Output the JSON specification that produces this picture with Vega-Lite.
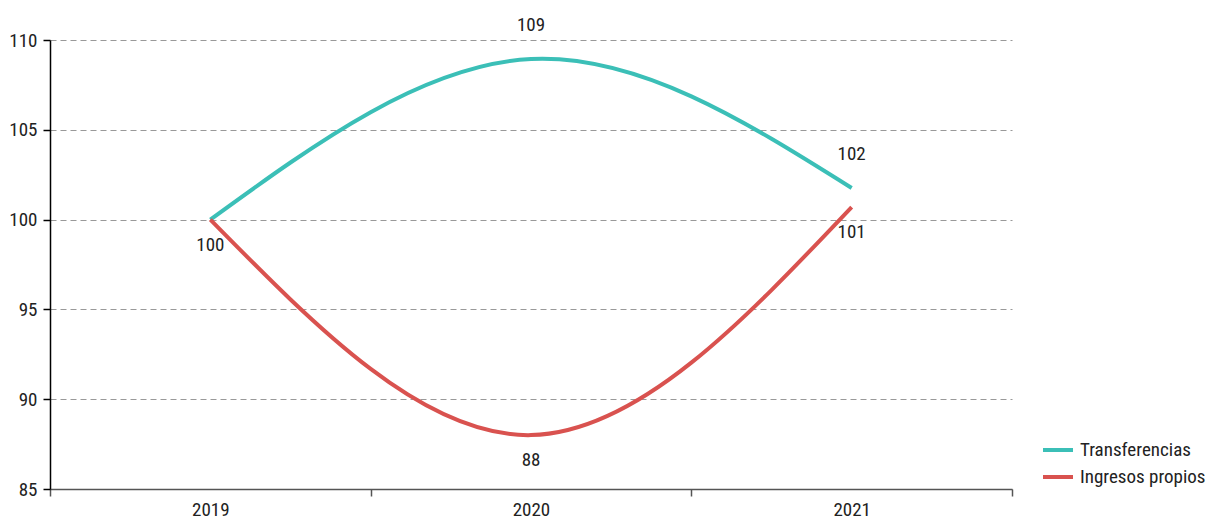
{
  "$schema": "https://vega.github.io/schema/vega-lite/v6.json",
  "width": 962,
  "height": 449,
  "autosize": {"type": "none"},
  "padding": {"left": 50, "top": 40, "right": 196, "bottom": 32},
  "background": "white",
  "config": {
    "font": "Roboto Condensed, Roboto",
    "view": {"stroke": null}
  },
  "data": {
    "values": [
      {"year": "2019", "serie": "Transferencias", "value": 100.0},
      {"year": "2020", "serie": "Transferencias", "value": 108.94},
      {"year": "2021", "serie": "Transferencias", "value": 101.76},
      {"year": "2019", "serie": "Ingresos propios", "value": 100.0},
      {"year": "2020", "serie": "Ingresos propios", "value": 88.0},
      {"year": "2021", "serie": "Ingresos propios", "value": 100.7}
    ]
  },
  "encoding": {
    "x": {
      "field": "year",
      "type": "ordinal",
      "bandPosition": 0.5,
      "scale": {"type": "band", "paddingInner": 0, "paddingOuter": 0},
      "axis": {
        "title": null,
        "labelAngle": 0,
        "labelFontSize": 19,
        "labelColor": "#222222",
        "labelPadding": 4,
        "domainColor": "#555555",
        "domainWidth": 1.5,
        "tickColor": "#555555",
        "tickSize": 7,
        "tickWidth": 1.5,
        "tickBand": "extent",
        "grid": false
      }
    },
    "y": {
      "field": "value",
      "type": "quantitative",
      "scale": {"domain": [85, 110], "nice": false, "zero": false},
      "axis": {
        "title": null,
        "values": [85, 90, 95, 100, 105, 110],
        "labelFontSize": 19,
        "labelColor": "#222222",
        "labelPadding": 6,
        "domainColor": "#000000",
        "domainWidth": 1.5,
        "tickColor": "#000000",
        "tickSize": 7,
        "tickWidth": 1.5,
        "grid": true,
        "gridColor": "#999999",
        "gridDash": [6, 4],
        "gridWidth": 1
      }
    },
    "color": {
      "field": "serie",
      "type": "nominal",
      "scale": {
        "domain": ["Transferencias", "Ingresos propios"],
        "range": ["#3bbfb7", "#d9524f"]
      },
      "legend": {
        "title": null,
        "orient": "none",
        "legendX": 991,
        "legendY": 393,
        "symbolType": "stroke",
        "symbolStrokeWidth": 4,
        "symbolSize": 900,
        "labelFontSize": 19,
        "labelColor": "#222222",
        "rowPadding": 0,
        "labelOffset": 5
      }
    }
  },
  "layer": [
    {
      "mark": {"type": "line", "interpolate": "natural", "strokeWidth": 4}
    },
    {
      "transform": [{"filter": "datum.serie == 'Transferencias' && datum.year != '2019'"}],
      "mark": {"type": "text", "fontSize": 19, "dy": -34, "baseline": "middle"},
      "encoding": {
        "text": {"field": "value", "type": "quantitative", "format": ".0f"},
        "color": {"value": "#222222"}
      }
    },
    {
      "transform": [{"filter": "datum.serie == 'Ingresos propios'"}],
      "mark": {"type": "text", "fontSize": 19, "dy": 25, "baseline": "middle"},
      "encoding": {
        "text": {"field": "value", "type": "quantitative", "format": ".0f"},
        "color": {"value": "#222222"}
      }
    }
  ]
}
